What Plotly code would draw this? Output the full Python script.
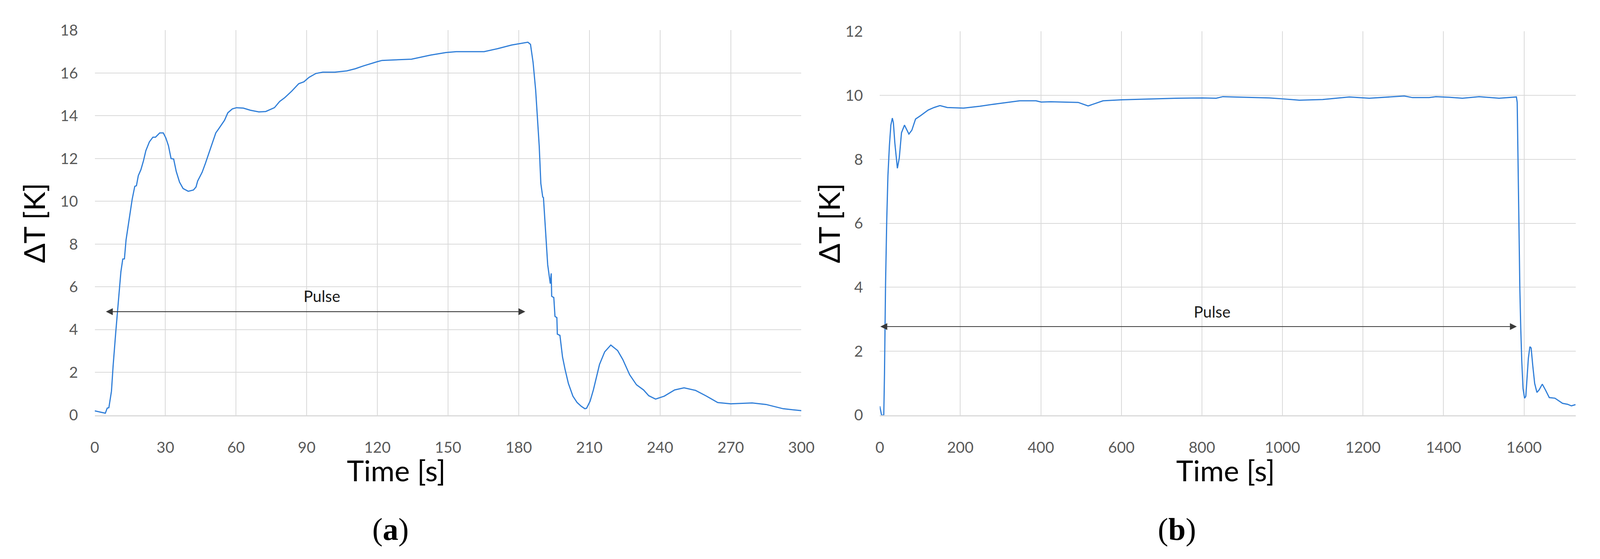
import plotly.graph_objects as go

# 面板 (a): 短脉冲
time_a = [0, 4.5, 5.3, 6, 7.1, 7.8, 8.9, 10, 11.1, 11.9,
          12.6, 13.3, 14.8, 15.9, 17, 17.7, 18.5, 19.6, 20.7, 21.7,
          23.2, 24.7, 25.8, 27.6, 29.1, 30.2, 31.3, 32.4, 33.5, 34.6,
          36, 37.5, 39.7, 41.9, 43, 43.7, 45.6, 47, 49.2, 51.4,
          52.5, 53.6, 55.1, 56.5, 58.4, 60.2, 63.1, 66.1, 69.7, 72.6,
          76.3, 78.5, 80.7, 83.6, 86.6, 88.8, 91, 93.9, 96.8, 101.9,
          107, 110.6, 114, 119.9, 122, 134.5, 142.6, 149.1, 153.5, 165.3,
          171.1, 177, 183.9, 185, 186.1, 187.2, 187.9, 188.7, 189.4, 190.2,
          190.5, 191.3, 192.3, 193.4, 193.8, 194, 194.9, 195.4, 196.2, 196.4,
          197.5, 198.6, 199.7, 201.1, 203, 204.8, 206.6, 208.1, 208.8, 210.3,
          211.7, 214.3, 216.5, 219.1, 222, 224.2, 227.1, 230, 233, 235.2,
          238.1, 241.8, 246.2, 250.2, 255, 259.4, 264.5, 270, 279.1, 285,
          292.3, 300]
dT_a = [0.2, 0.09, 0.33, 0.35, 1.12, 2.3, 3.85, 5.27, 6.7, 7.3,
        7.31, 8.2, 9.3, 10.1, 10.7, 10.73, 11.2, 11.48, 11.9, 12.37,
        12.78, 13.0, 13.0, 13.2, 13.2, 12.96, 12.6, 12.0, 11.98, 11.4,
        10.9, 10.6, 10.47, 10.53, 10.67, 10.95, 11.36, 11.78, 12.49, 13.2,
        13.37, 13.55, 13.79, 14.14, 14.32, 14.38, 14.36, 14.26, 14.18, 14.2,
        14.38, 14.67, 14.85, 15.15, 15.5, 15.59, 15.8, 15.98, 16.04, 16.04,
        16.1, 16.2, 16.33, 16.53, 16.59, 16.65, 16.84, 16.96, 17.0, 17.0,
        17.14, 17.31, 17.44, 17.34, 16.5, 15.2, 14.0, 12.6, 10.83, 10.2,
        10.18, 8.8, 7.04, 6.15, 6.63, 5.56, 5.5, 4.62, 4.56, 3.79,
        3.73, 2.72, 2.13, 1.48, 0.89, 0.59, 0.41, 0.3, 0.32, 0.65,
        1.18, 2.37, 2.96, 3.28, 3.02, 2.6, 1.89, 1.42, 1.18, 0.91,
        0.75, 0.89, 1.18, 1.28, 1.16, 0.91, 0.59, 0.53, 0.57, 0.5,
        0.3, 0.21]

# 面板 (b): 长脉冲
time_b = [0, 4.4, 9.9, 11.7, 14.3, 17.2, 20.2, 23.9, 27.5, 31.2,
          33.8, 37.4, 43.7, 48.4, 53.9, 61.3, 72.3, 79.6, 88.8, 101.7,
          120, 134.7, 149.4, 167.7, 208, 248.4, 292.5, 321.8, 347.5, 387.9,
          400.7, 424.6, 471.9, 492.6, 517.4, 554.5, 600, 670, 736, 802,
          835.5, 852, 901.7, 967.8, 1000.8, 1042, 1100, 1133, 1166, 1215.7,
          1248.8, 1302.5, 1323, 1364.5, 1381, 1414, 1447, 1488.4, 1538, 1577.7,
          1581, 1583, 1584.6, 1586.5, 1588, 1589.6, 1591.8, 1594.3, 1597.5, 1601.3,
          1604.4, 1607.5, 1610.7, 1614.5, 1617.6, 1621.7, 1626.4, 1632, 1637.4, 1645.3,
          1653.1, 1662.6, 1676.7, 1695.6, 1708.2, 1717.6, 1728]
dT_b = [0.28, 0, 0, 1.31, 4.08, 6.06, 7.48, 8.43, 9.07, 9.29,
        9.14, 8.51, 7.72, 8.04, 8.83, 9.07, 8.79, 8.91, 9.26, 9.37,
        9.54, 9.62, 9.68, 9.62, 9.6, 9.66, 9.74, 9.79, 9.83, 9.83,
        9.79, 9.8, 9.79, 9.78, 9.67, 9.83, 9.86, 9.89, 9.91, 9.92,
        9.91, 9.96, 9.94, 9.92, 9.89, 9.85, 9.87, 9.91, 9.95, 9.91,
        9.94, 9.98, 9.93, 9.93, 9.96, 9.94, 9.91, 9.96, 9.91, 9.94,
        9.95, 9.78, 8.27, 6.69, 5.27, 3.92, 2.73, 1.7, 0.83, 0.53,
        0.59, 1.15, 1.78, 2.14, 2.1, 1.54, 0.99, 0.71, 0.79, 0.97,
        0.79, 0.55, 0.53, 0.37, 0.34, 0.29, 0.33]

# 脉冲箭头 (起点, 终点, 高度) 和标签位置
pulse_a = (4.5, 182.8, 4.84)
pulse_b = (0, 1582, 2.77)
pulse_label_a = (96.4, 5.56)
pulse_label_b = (825, 3.23)

xticks_a = list(range(0, 301, 30))
yticks_a = list(range(0, 19, 2))
xticks_b = list(range(0, 1601, 200))
yticks_b = list(range(0, 13, 2))

W, H = 4106, 1431
line_color = "#2f7ed8"
grid_color = "#d9d9d9"
tick_font = dict(family="Lato", size=39, color="#595959")
title_font = dict(family="Lato", size=74, color="#000000")

fig = go.Figure()
fig.add_trace(go.Scatter(x=time_a, y=dT_a, mode="lines", xaxis="x", yaxis="y",
                         line=dict(color=line_color, width=3), showlegend=False))
fig.add_trace(go.Scatter(x=time_b, y=dT_b, mode="lines", xaxis="x2", yaxis="y2",
                         line=dict(color=line_color, width=3), showlegend=False))

axis_common = dict(showgrid=True, gridcolor=grid_color, gridwidth=2, zeroline=False,
                   tickfont=tick_font, ticks="", fixedrange=True)

fig.update_layout(
    width=W, height=H,
    margin=dict(l=0, r=0, t=0, b=0),
    paper_bgcolor="white", plot_bgcolor="white",
    xaxis=dict(domain=[226 / W, 2055 / W], anchor="y", range=[0, 300],
               tickvals=xticks_a, showline=True, linecolor=grid_color, linewidth=3,
               ticklabelstandoff=46, **axis_common),
    yaxis=dict(domain=[1 - 1065 / H, 1 - 47 / H], anchor="x", range=[0, 18],
               tickvals=yticks_a, ticklabelstandoff=42, **axis_common),
    xaxis2=dict(domain=[2258 / W, 4059 / W], anchor="y2", range=[0, 1728],
                tickvals=xticks_b, showline=True, linecolor=grid_color, linewidth=3,
                ticklabelstandoff=46, **axis_common),
    yaxis2=dict(domain=[1 - 1065 / H, 1 - 50 / H], anchor="x2", range=[0, 12],
                tickvals=yticks_b, ticklabelstandoff=42, **axis_common),
)

# 双向箭头
for (x0, x1, yv), xr, yr in [(pulse_a, "x", "y"), (pulse_b, "x2", "y2")]:
    fig.add_annotation(x=x1, y=yv, ax=x0, ay=yv, xref=xr, yref=yr, axref=xr, ayref=yr,
                       text="", showarrow=True, arrowside="end+start",
                       arrowhead=2, startarrowhead=2, arrowsize=1.6, startarrowsize=1.6,
                       arrowwidth=2.2, arrowcolor="#3a3a3a", standoff=0, startstandoff=0)

for (xv, yv), xr, yr in [(pulse_label_a, "x", "y"), (pulse_label_b, "x2", "y2")]:
    fig.add_annotation(x=xv, y=yv, xref=xr, yref=yr, text="Pulse", showarrow=False,
                       font=dict(family="Lato", size=40, color="#1a1a1a"))

# 坐标轴标题和子图编号
for xp, txt in [(1007, "Time [s]"), (3153, "Time [s]")]:
    fig.add_annotation(x=xp / W, y=1 - 1210 / H, xref="paper", yref="paper", text=txt,
                       showarrow=False, font=title_font, xanchor="center", yanchor="middle")
for xp in [68, 2125]:
    fig.add_annotation(x=xp / W, y=1 - 557 / H, xref="paper", yref="paper", text="ΔT [K]",
                       textangle=-90, showarrow=False, font=title_font,
                       xanchor="center", yanchor="middle")
for xp, letter in [(991, "a"), (3027, "b")]:
    fig.add_annotation(x=xp / W, y=1 - 1367 / H, xref="paper", yref="paper",
                       text="(<b>" + letter + "</b>)", showarrow=False,
                       font=dict(family="Liberation Serif", size=80, color="#000000"),
                       xanchor="center", yanchor="middle")

fig.write_html("out.html")
